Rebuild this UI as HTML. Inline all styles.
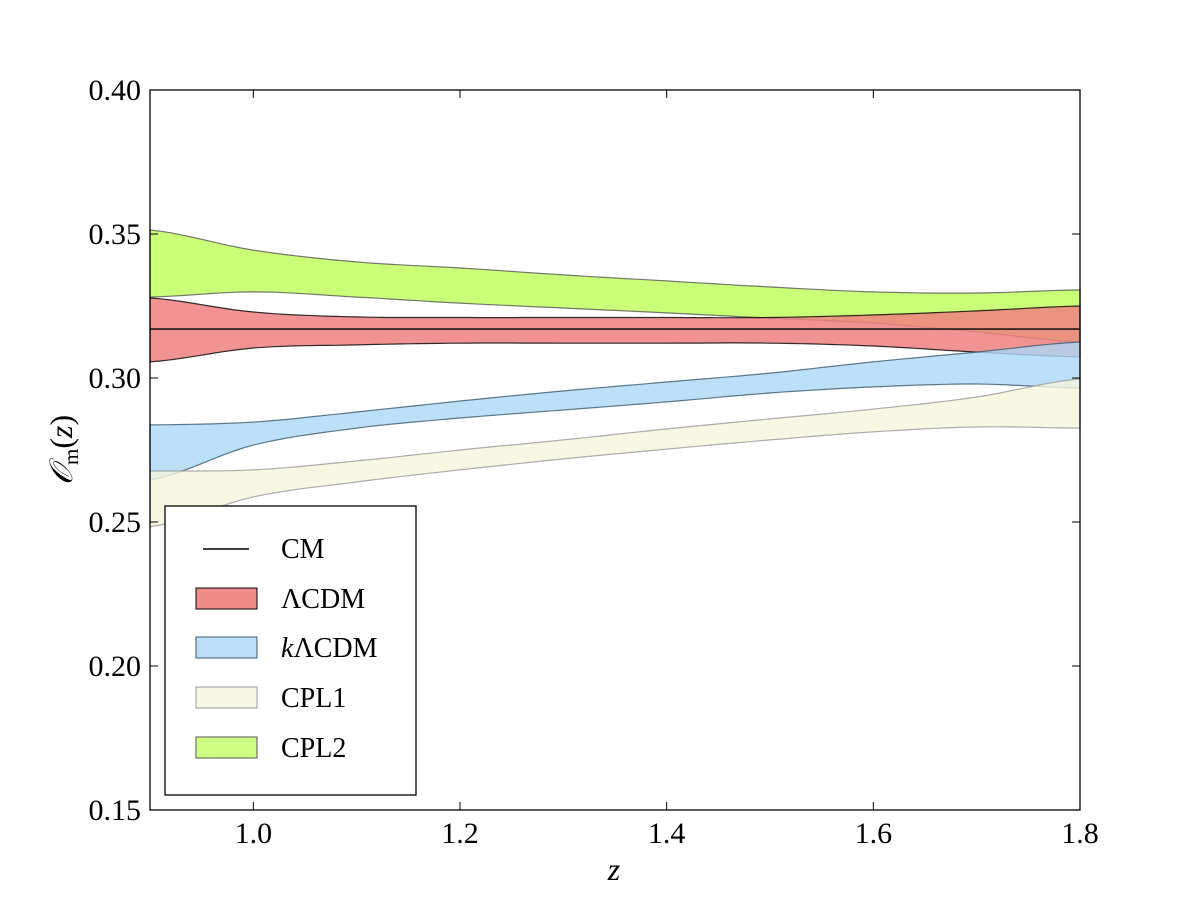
<!DOCTYPE html>
<html><head><meta charset="utf-8"><style>
body{margin:0;background:#fff}
svg text{font-family:"Liberation Serif",serif;fill:#000}
</style></head><body>
<svg id="chart" width="1200" height="900" xmlns="http://www.w3.org/2000/svg">
<g id="bands"></g>
<g id="axes"></g>
</svg>
<script>
const zs=[0.9,1.0,1.1,1.2,1.3,1.4,1.5,1.6,1.7,1.8];
const lcdmUp=[0.3278,0.3229,0.3212,0.321,0.321,0.321,0.321,0.3219,0.3233,0.325];
const lcdmLo=[0.3056,0.3104,0.3115,0.3121,0.3121,0.3121,0.3121,0.3111,0.309,0.3073];
const klcdmUp=[0.2837,0.2847,0.2882,0.292,0.2955,0.2986,0.3017,0.3056,0.309,0.3125];
const klcdmLo=[0.2646,0.2767,0.2826,0.2861,0.2889,0.2917,0.2948,0.2969,0.2979,0.2965];
const cpl1Up=[0.2677,0.2681,0.2712,0.275,0.2785,0.2823,0.2858,0.2892,0.2934,0.2997];
const cpl1Lo=[0.2483,0.2587,0.2639,0.2681,0.2719,0.2753,0.2785,0.2813,0.283,0.2826];
const cpl2Up=[0.3514,0.3444,0.3403,0.3382,0.3358,0.3337,0.3316,0.3299,0.3295,0.3306];
const cpl2Lo=[0.3281,0.3299,0.3281,0.326,0.3243,0.3226,0.3208,0.3191,0.316,0.3125];
const cmValue=0.317;
const xTicks=[1.0,1.2,1.4,1.6,1.8];
const yTicks=[0.15,0.20,0.25,0.30,0.35,0.40];
const X0=150,X1=1080,Y0=810,Y1=90;
const sx=v=>X0+(v-0.9)/(1.8-0.9)*(X1-X0);
const sy=v=>Y0-(v-0.15)/(0.40-0.15)*(Y0-Y1);
const NS='http://www.w3.org/2000/svg';
function mk(tag,attrs,parent){const e=document.createElementNS(NS,tag);for(const k in attrs)e.setAttribute(k,attrs[k]);parent.appendChild(e);return e;}
function spline(xs,ys,n){const pts=[];for(let i=0;i<xs.length-1;i++){const p0=ys[Math.max(i-1,0)],p1=ys[i],p2=ys[i+1],p3=ys[Math.min(i+2,ys.length-1)];for(let j=0;j<n;j++){const t=j/n;const v=0.5*((2*p1)+(-p0+p2)*t+(2*p0-5*p1+4*p2-p3)*t*t+(-p0+3*p1-3*p2+p3)*t*t*t);pts.push([xs[i]+(xs[i+1]-xs[i])*t,v]);}}pts.push([xs[xs.length-1],ys[ys.length-1]]);return pts;}
const bands=document.getElementById('bands');
const series=[['cpl2',cpl2Up,cpl2Lo,'#adff2f','#555',0.65],['lcdm',lcdmUp,lcdmLo,'#f08080','#000',0.85],['klcdm',klcdmUp,klcdmLo,'#add8f7','#3a5a6a',0.8],['cpl1',cpl1Up,cpl1Lo,'#f5f5dc','#999',0.8]];
series.forEach(s=>{const up=spline(zs,s[1],10),lo=spline(zs,s[2],10).reverse();
 const d='M'+up.map(p=>sx(p[0]).toFixed(1)+','+sy(p[1]).toFixed(1)).join('L')+'L'+lo.map(p=>sx(p[0]).toFixed(1)+','+sy(p[1]).toFixed(1)).join('L')+'Z';
 const e=mk('path',{d:d,fill:s[3],'fill-opacity':s[5],stroke:s[4],'stroke-width':1.2,'stroke-opacity':0.8},bands);
 
 });
const cm=mk('line',{x1:sx(0.9),x2:sx(1.8),y1:sy(cmValue),y2:sy(cmValue),stroke:'#000','stroke-width':1.3},bands);


const ax=document.getElementById('axes');
const fr=mk('rect',{x:X0,y:Y1,width:X1-X0,height:Y0-Y1,fill:'none',stroke:'#000','stroke-width':1.3},ax);


xTicks.forEach(t=>{const x=sx(t);mk('line',{x1:x,x2:x,y1:Y0,y2:Y0-8,stroke:'#000'},ax);mk('line',{x1:x,x2:x,y1:Y1,y2:Y1+8,stroke:'#000'},ax);
 const tx=mk('text',{x:x,y:843,'text-anchor':'middle','font-size':30},ax);tx.textContent=t.toFixed(1);
 
 });
yTicks.forEach(t=>{const y=sy(t);mk('line',{x1:X0,x2:X0+8,y1:y,y2:y,stroke:'#000'},ax);mk('line',{x1:X1,x2:X1-8,y1:y,y2:y,stroke:'#000'},ax);
 const tx=mk('text',{x:141,y:y+10,'text-anchor':'end','font-size':30},ax);tx.textContent=t.toFixed(2);
 
 });
</script>
<svg style="position:absolute;left:0;top:0" width="1200" height="900" xmlns="http://www.w3.org/2000/svg">
<text x="614" y="880" text-anchor="middle" font-size="32" font-style="italic">z</text>
<text transform="translate(72,450) rotate(-90)" text-anchor="middle" font-size="32"><tspan font-style="italic">𝒪</tspan><tspan font-size="21" dy="6">m</tspan><tspan dy="-6">(</tspan><tspan font-style="italic">z</tspan>)</text>
<g>
<rect x="165" y="506" width="251" height="289" fill="#fff" stroke="#000" stroke-width="1.3"/>
<line x1="203" x2="249" y1="549" y2="549" stroke="#000" stroke-width="1.5"/>
<text x="281" y="558" font-size="28">CM</text>
<rect x="196" y="588" width="61" height="21" fill="#f08080" fill-opacity="0.9" stroke="#000"/>
<text x="281" y="608" font-size="28">ΛCDM</text>
<rect x="196" y="637" width="61" height="21" fill="#add8f7" fill-opacity="0.8" stroke="#3a5a6a"/>
<text x="281" y="657" font-size="28"><tspan font-style="italic">k</tspan>ΛCDM</text>
<rect x="196" y="687" width="61" height="21" fill="#f5f5dc" fill-opacity="0.8" stroke="#999"/>
<text x="281" y="707" font-size="28">CPL1</text>
<rect x="196" y="737" width="61" height="21" fill="#adff2f" fill-opacity="0.6" stroke="#555"/>
<text x="281" y="757" font-size="28">CPL2</text>
</g>
</svg>
</body></html>
